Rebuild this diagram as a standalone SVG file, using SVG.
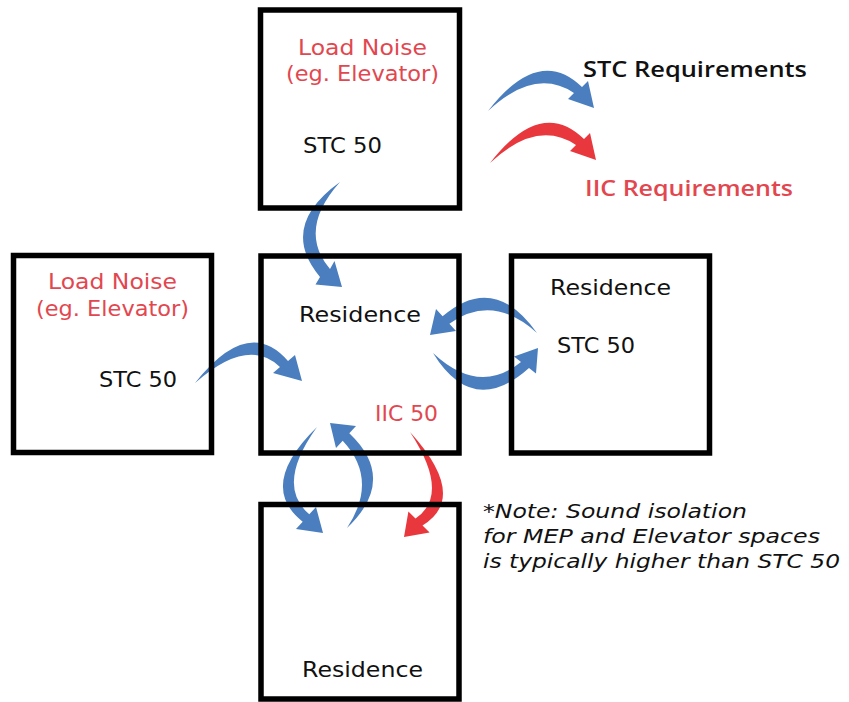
<svg xmlns="http://www.w3.org/2000/svg" width="849" height="702" viewBox="0 0 849 702">
<style>
.box{fill:none;stroke:#000;stroke-width:5.5}
text{font-family:"DejaVu Sans","Liberation Sans",sans-serif;font-size:21px;fill:#111}
.red{fill:#e2474f}
.leg{font-family:"Open Sans","DejaVu Sans",sans-serif;font-weight:600;font-size:22px}
.note{font-style:italic;font-size:20px}
.blue{fill:#4a7ebf}
.redA{fill:#e8383e}
</style>
<rect width="849" height="702" fill="#fff"/>
<g id="connectors">
<path id="legBlue" class="blue" d="M488,111 Q539,45 582,87 L588,81 L594,108 L568,99 L574,93 Q535,67 488,111 Z"/>
<path id="legRed" class="redA" d="M490,163 Q541,97 584,139 L590,133 L596,160 L570,151 L576,145 Q537,119 490,163 Z"/>
<path class="blue" d="M340,182 Q278,226.5 320,277 L315.5,284.6 L342,287 L334.5,261 L330,269 Q297,230 340,182 Z"/>
<path class="blue" d="M195,383 Q248.5,315 288,361 L295,355 L302,381 L273,373 L280,367 Q248,336 195,383 Z"/>
<path class="blue" d="M537,333 Q494,272 442.6,316.3 L436,309 L430,335 L456,331 L449.4,323.7 Q493,293 537,333 Z"/>
<path class="blue" d="M433,353 Q473,418 529,368 L536,373.5 L538,348 L514,356.5 L521,362 Q479,396 433,353 Z"/>
<path class="blue" d="M317,427 Q257,485.6 302.7,521.7 L296,529 L323,533 L316,507 L309.3,514.3 Q275,485.4 317,427 Z"/>
<path class="blue" d="M347,528 Q398,479.4 349.3,433.3 L356,426 L330,423 L336,448 L342.7,440.7 Q379,479.6 347,528 Z"/>
<path class="redA" d="M410,432 Q469,497 422.5,525.5 L429.6,532.6 L404,537 L408.4,511.4 L415.5,518.5 Q451,494.6 410,432 Z"/>
</g>
<g id="node-top">
<rect class="box" x="260.5" y="10" width="199" height="198"/>
<text class="red" x="298" y="55" textLength="129" lengthAdjust="spacingAndGlyphs">Load Noise</text>
<text class="red" x="286" y="81" textLength="153" lengthAdjust="spacingAndGlyphs">(eg. Elevator)</text>
<text x="303" y="153" textLength="79" lengthAdjust="spacingAndGlyphs">STC 50</text>
</g>
<g id="node-left">
<rect class="box" x="13.5" y="255.5" width="198" height="197"/>
<text class="red" x="48" y="289" textLength="129" lengthAdjust="spacingAndGlyphs">Load Noise</text>
<text class="red" x="36" y="316" textLength="153" lengthAdjust="spacingAndGlyphs">(eg. Elevator)</text>
<text x="99" y="387" textLength="78" lengthAdjust="spacingAndGlyphs">STC 50</text>
</g>
<g id="node-center">
<rect class="box" x="261" y="256" width="198" height="197"/>
<text x="299" y="322" textLength="122" lengthAdjust="spacingAndGlyphs">Residence</text>
<text class="red" x="375" y="421" textLength="63" lengthAdjust="spacingAndGlyphs">IIC 50</text>
</g>
<g id="node-right">
<rect class="box" x="511.5" y="256" width="198" height="197"/>
<text x="550" y="295" textLength="121" lengthAdjust="spacingAndGlyphs">Residence</text>
<text x="557" y="353" textLength="78" lengthAdjust="spacingAndGlyphs">STC 50</text>
</g>
<g id="node-bottom">
<rect class="box" x="261" y="504.5" width="198" height="194.5"/>
<text x="302" y="677" textLength="121" lengthAdjust="spacingAndGlyphs">Residence</text>
</g>
<g id="legend">
<text class="leg" x="583" y="77" textLength="224" lengthAdjust="spacingAndGlyphs">STC Requirements</text>
<text class="leg red" x="585" y="196" textLength="208" lengthAdjust="spacingAndGlyphs">IIC Requirements</text>
</g>
<g id="note">
<text class="note" x="483" y="518" textLength="264" lengthAdjust="spacingAndGlyphs">*Note: Sound isolation</text>
<text class="note" x="483" y="543" textLength="337" lengthAdjust="spacingAndGlyphs">for MEP and Elevator spaces</text>
<text class="note" x="483" y="568" textLength="357" lengthAdjust="spacingAndGlyphs">is typically higher than STC 50</text>
</g>
</svg>
